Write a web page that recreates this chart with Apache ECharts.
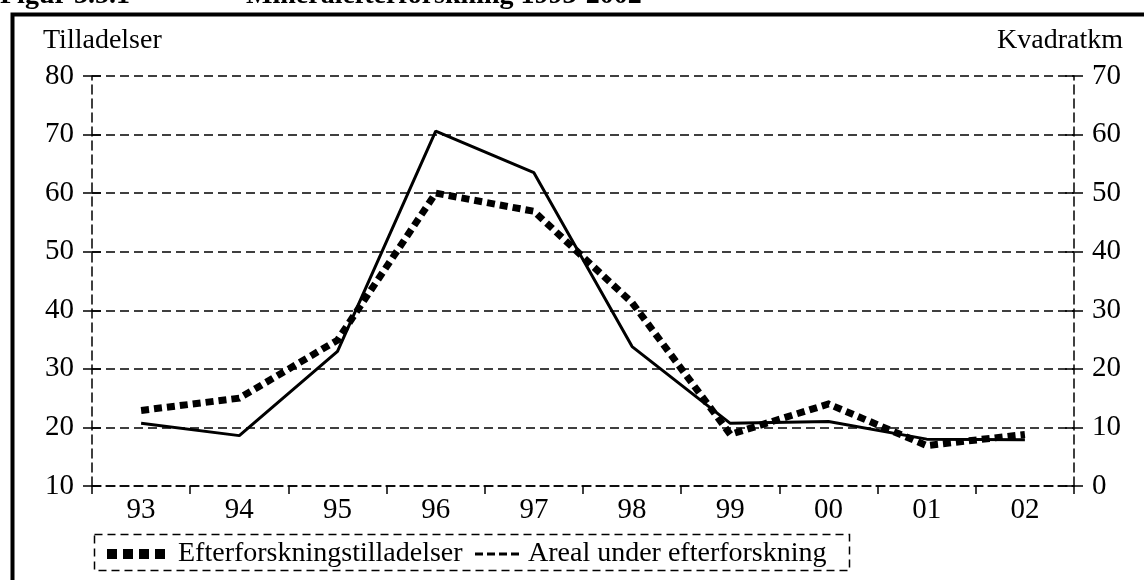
<!DOCTYPE html>
<html>
<head>
<meta charset="utf-8">
<title>Mineralefterforskning 1993-2002</title>
<script src="https://cdn.jsdelivr.net/npm/echarts@6/dist/echarts.min.js"></script>
<style>
  html, body { margin: 0; padding: 0; background: #fff; }
  #main { width: 1144px; height: 580px; }
</style>
</head>
<body>
<div id="main"></div>
<script>
  // data
  const years = ["93", "94", "95", "96", "97", "98", "99", "00", "01", "02"];
  const tilladelser = [22.9, 25.0, 34.9, 60.0, 56.9, 41.3, 18.8, 24.0, 16.9, 18.8];
  const kvadratkm = [10.7, 8.6, 23.0, 60.6, 53.5, 23.8, 10.7, 11.0, 8.0, 7.9];
  const leftTicks = { min: 10, max: 80, interval: 10 };
  const rightTicks = { min: 0, max: 70, interval: 10 };

  const font = "'Liberation Serif', 'Times New Roman', serif";
  const dash = [9, 5];

  function yAxisBase(range, pos, inside, labels) {
    return {
      type: "value",
      position: pos,
      min: range.min,
      max: range.max,
      interval: range.interval,
      axisLine: { show: labels, lineStyle: { color: "#000", width: 1.5, type: dash } },
      axisTick: { show: true, inside: inside, length: 9, lineStyle: { color: "#000", width: 1.5 } },
      axisLabel: { show: labels, color: "#000", fontFamily: font, fontSize: 29, margin: 18 },
      splitLine: { show: false }
    };
  }

  const chart = echarts.init(document.getElementById("main"));

  const leftAxis = yAxisBase(leftTicks, "left", false, true);
  leftAxis.splitLine = { show: true, lineStyle: { color: "#000", width: 1.5, type: dash } };

  const option = {
    animation: false,
    backgroundColor: "#fff",
    title: [
      { text: "Figur 3.5.1", left: 0, top: -18, padding: 0,
        textStyle: { fontFamily: font, fontSize: 28, fontWeight: "bold", color: "#000" } },
      { text: "Mineralefterforskning 1993-2002", left: 246, top: -18, padding: 0,
        textStyle: { fontFamily: font, fontSize: 28, fontWeight: "bold", color: "#000" } },
      { text: "Tilladelser", left: 43, top: 27, padding: 0,
        textStyle: { fontFamily: font, fontSize: 28, fontWeight: "normal", color: "#000" } },
      { text: "Kvadratkm", right: 21, top: 27, padding: 0,
        textStyle: { fontFamily: font, fontSize: 28, fontWeight: "normal", color: "#000" } }
    ],
    grid: { left: 92, right: 70, top: 76, bottom: 94, containLabel: false },
    xAxis: {
      type: "category",
      data: years,
      boundaryGap: true,
      axisLine: { lineStyle: { color: "#000", width: 1.5, type: dash } },
      axisTick: { show: true, length: 8, lineStyle: { color: "#000", width: 1.5 } },
      axisLabel: { color: "#000", fontFamily: font, fontSize: 29, margin: 10 }
    },
    yAxis: [
      leftAxis,
      yAxisBase(rightTicks, "right", false, true),
      // inner halves of the cross ticks
      yAxisBase(leftTicks, "left", true, false),
      yAxisBase(rightTicks, "right", true, false)
    ],
    legend: [
      {
        data: ["Efterforskningstilladelser"],
        left: 102, top: 535,
        itemWidth: 58, itemHeight: 10,
        icon: "path://M0,0h10v10h-10z M16,0h10v10h-10z M32,0h10v10h-10z M48,0h10v10h-10z",
        textStyle: { fontFamily: font, fontSize: 28, color: "#000", padding: [0, 0, 0, 8] }
      },
      {
        data: ["Areal under efterforskning"],
        left: 470, top: 535,
        itemWidth: 44, itemHeight: 3,
        icon: "path://M0,0h8v3h-8z M12,0h8v3h-8z M24,0h8v3h-8z M36,0h8v3h-8z",
        textStyle: { fontFamily: font, fontSize: 28, color: "#000", padding: [0, 0, 0, 4] }
      }
    ],
    graphic: [
      // outer frame
      { type: "rect", left: 10, top: 12, shape: { width: 1200, height: 600 },
        style: { fill: "none", stroke: "#000", lineWidth: 4 }, z: 10 },
      // legend box
      { type: "rect", left: 92, top: 532, shape: { width: 755, height: 36 },
        style: { fill: "none", stroke: "#000", lineWidth: 1.5, lineDash: [8, 5] }, z: 10 }
    ],
    series: [
      {
        name: "Efterforskningstilladelser",
        type: "line",
        yAxisIndex: 0,
        data: tilladelser,
        symbol: "none",
        itemStyle: { color: "#000" },
        lineStyle: { color: "#000", width: 7, type: [8, 5], cap: "butt", join: "miter" },
        z: 3
      },
      {
        name: "Areal under efterforskning",
        type: "line",
        yAxisIndex: 1,
        data: kvadratkm,
        symbol: "none",
        itemStyle: { color: "#000" },
        lineStyle: { color: "#000", width: 3, type: "solid" },
        z: 4
      }
    ]
  };

  chart.setOption(option);
</script>
</body>
</html>
